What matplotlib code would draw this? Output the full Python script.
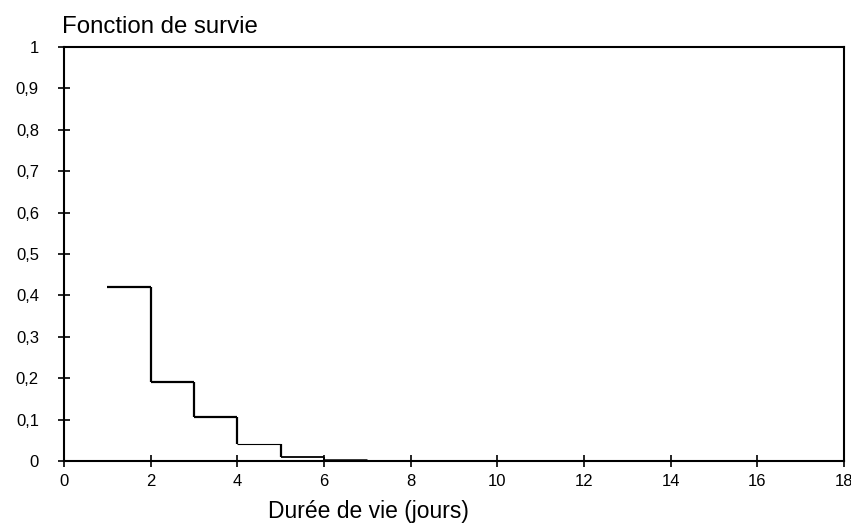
import matplotlib
matplotlib.use("Agg")
import matplotlib.pyplot as plt

plt.rcParams['font.family'] = ['Liberation Sans', 'DejaVu Sans']

# Step function: survival value on each interval [start, end)
seg_start = [1, 2, 3, 4, 5, 6, 7]
seg_end = [2, 3, 4, 5, 6, 7, 12.3]
surv = [0.42, 0.19, 0.107, 0.04, 0.01, 0.003, 0.0]
seg_width = [1.6, 1.6, 1.6, 0.8, 1.3, 1.8, 1.2]
vert_width = [1.6, 1.6, 1.6, 1.6, 1.3, 0.8]

x_ticks = [0, 2, 4, 6, 8, 10, 12, 14, 16, 18]
y_ticks = [0, 0.1, 0.2, 0.3, 0.4, 0.5, 0.6, 0.7, 0.8, 0.9, 1]
y_labels = ['0', '0,1', '0,2', '0,3', '0,4', '0,5', '0,6', '0,7', '0,8', '0,9', '1']

fig = plt.figure(figsize=(8.51, 5.23), dpi=100)
ax = fig.add_axes([0.0752, 0.1185, 0.9166, 0.7915])

ax.hlines(surv, seg_start, seg_end, colors='black', linewidths=seg_width)
ax.vlines(seg_end[:-1], surv[1:], surv[:-1], colors='black', linewidths=vert_width)

ax.set_xlim(0, 18)
ax.set_ylim(0, 1)
ax.set_xticks(x_ticks)
ax.set_xticklabels([str(t) for t in x_ticks])
ax.set_yticks(y_ticks)
ax.set_yticklabels(y_labels)
ax.tick_params(direction='inout', length=8, width=1.2, labelsize=12, colors='black')
ax.tick_params(axis='x', pad=5)
ax.tick_params(axis='y', pad=14)
for s in ax.spines.values():
    s.set_linewidth(1.5)
    s.set_color('black')

fig.text(0.4324, 0.0096, 'Durée de vie (jours)', fontsize=16.5, ha='center', va='baseline')
fig.text(0.0729, 0.937, 'Fonction de survie', fontsize=17.3, ha='left', va='baseline')

fig.savefig('out.png', dpi=100)
